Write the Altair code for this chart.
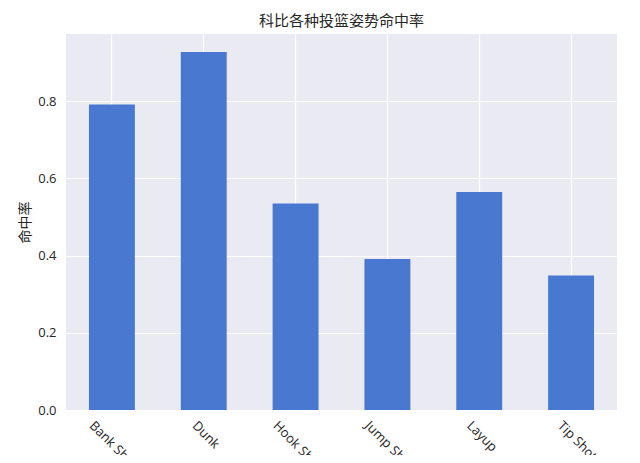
import altair as alt
import pandas as pd

shot_types = ["Bank Shot", "Dunk", "Hook Shot", "Jump Shot", "Layup", "Tip Shot"]
accuracy = [0.7917, 0.9280, 0.5354, 0.3911, 0.5651, 0.3487]
y_ticks = [0.0, 0.2, 0.4, 0.6, 0.8]

df = pd.DataFrame({"shot": shot_types, "acc": accuracy})

FONT = "Open Sans, Noto Sans CJK SC, sans-serif"
TXT = "#262626"

label_offset = {
    "condition": [
        {"test": "datum.label == 'Dunk'", "value": -5},
        {"test": "datum.label == 'Layup'", "value": -6},
        {"test": "datum.label == 'Tip Shot'", "value": -7},
    ],
    "value": -16,
}

chart = (
    alt.Chart(df)
    .mark_bar(color="#4878CF")
    .encode(
        x=alt.X(
            "shot:N",
            sort=shot_types,
            title=None,
            scale=alt.Scale(paddingInner=0.5, paddingOuter=0.25),
            axis=alt.Axis(
                labelAngle=45,
                labelAlign="left",
                labelBaseline="top",
                labelPadding=9,
                labelOffset=label_offset,
                bandPosition=0.5,
                grid=True,
                gridColor="white",
                gridWidth=1.2,
                ticks=False,
                tickSize=0,
                domain=False,
                labelFont=FONT,
                labelFontSize=13,
                labelColor=TXT,
                labelOverlap=False,
            ),
        ),
        y=alt.Y(
            "acc:Q",
            title="命中率",
            scale=alt.Scale(domain=[0, 0.9744], nice=False, zero=True),
            axis=alt.Axis(
                values=y_ticks,
                format=".1f",
                grid=True,
                gridColor="white",
                gridWidth=1.2,
                ticks=False,
                tickSize=0,
                domain=False,
                labelPadding=10,
                labelFont=FONT,
                labelFontSize=13,
                labelColor=TXT,
                titleFont=FONT,
                titleFontSize=14,
                titleFontWeight="normal",
                titleColor=TXT,
                titlePadding=5,
            ),
        ),
    )
    .properties(
        width=551,
        height=376,
        background="white",
        autosize=alt.AutoSizeParams(type="none"),
        padding={"left": 58, "top": 26, "right": 15, "bottom": 45},
        title=alt.TitleParams(
            "科比各种投篮姿势命中率",
            font=FONT,
            fontSize=15,
            fontWeight="normal",
            color=TXT,
            anchor="middle",
            offset=5,
        ),
    )
    .configure_view(fill="#EAEAF2", stroke=None)
)

chart.save("out.html", embed_options={"renderer": "svg", "actions": False})
